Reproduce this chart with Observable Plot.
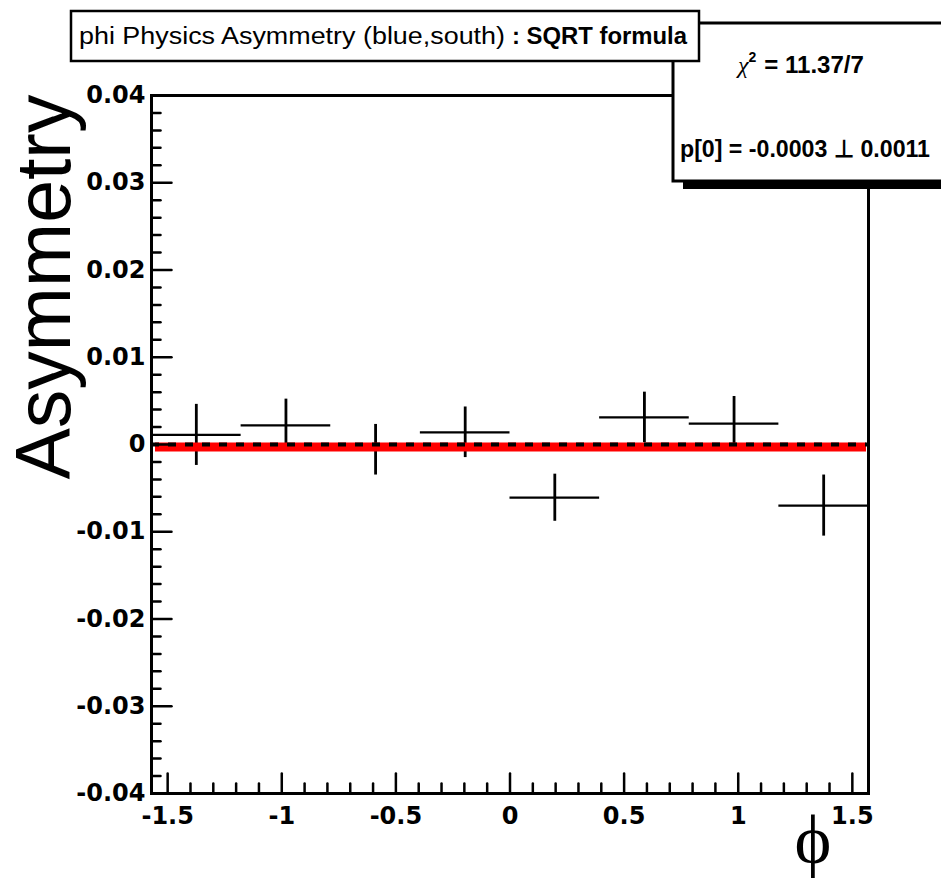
<!DOCTYPE html>
<html>
<head>
<meta charset="utf-8">
<script src="https://cdn.jsdelivr.net/npm/d3@7"></script>
<script src="https://cdn.jsdelivr.net/npm/@observablehq/plot@0.6"></script>
<style>
  html, body { margin: 0; padding: 0; background: #fff; }
  #chart { width: 941px; height: 878px; overflow: hidden; }
</style>
</head>
<body>
<div id="chart"></div>
<script>
// ---- data ----
const xDomain = [-1.5708, 1.5708];
const yDomain = [-0.04, 0.04];
const binLow    = [-1.5708, -1.1781, -0.7854, -0.3927, 0.0, 0.3927, 0.7854, 1.1781];
const binHigh   = [-1.1781, -0.7854, -0.3927, 0.0, 0.3927, 0.7854, 1.1781, 1.5708];
const binCenter = [-1.3744, -0.9817, -0.5890, -0.1963, 0.1963, 0.5890, 0.9817, 1.3744];
const asym      = [0.0011, 0.0022, -0.0006, 0.0014, -0.0061, 0.0031, 0.0024, -0.0070];
const asymErr   = [0.0035, 0.0030, 0.0029, 0.0029, 0.0027, 0.0029, 0.0031, 0.0035];
const fitP0 = -0.0003;
const yMajorTicks = [-0.04, -0.03, -0.02, -0.01, 0, 0.01, 0.02, 0.03, 0.04];
const yTickLabels = ["-0.04", "-0.03", "-0.02", "-0.01", "0", "0.01", "0.02", "0.03", "0.04"];
const yMinorTicks = d3.range(-40, 41, 2).filter(v => v % 10 !== 0).map(v => v / 1000);
const xMajorTicks = [-1.5, -1, -0.5, 0, 0.5, 1, 1.5];
const xTickLabels = ["-1.5", "-1", "-0.5", "0", "0.5", "1", "1.5"];
const xMinorTicks = d3.range(-15, 16, 1).filter(v => v % 5 !== 0).map(v => v / 10);
const titleText = "phi Physics Asymmetry (blue,south)";
const titleBold = ": SQRT formula";
const chi2Text = "= 11.37/7";
const p0Text = "p[0] = -0.0003 \u22A5 0.0011";
const yLabel = "Asymmetry";
const xLabel = "\u03D5";

const points = binCenter.map((c, i) => ({
  c, lo: binLow[i], hi: binHigh[i], v: asym[i], e: asymErr[i]
}));
const yMajor = yMajorTicks.map((t, i) => ({t, label: yTickLabels[i]}));
const xMajor = xMajorTicks.map((t, i) => ({t, label: xTickLabels[i]}));

const tickFont = "DejaVu Sans, Liberation Sans, sans-serif";
// plain line shape for tick vectors (no arrowhead)
const lineShape = {draw(context, l) { context.moveTo(0, 0); context.lineTo(0, -l); }};

const plot = Plot.plot({
  width: 941,
  height: 878,
  marginLeft: 151,
  marginRight: 73,
  marginTop: 95,
  marginBottom: 85,
  style: {background: "#fff", overflow: "visible"},
  x: {domain: xDomain, axis: null},
  y: {domain: yDomain, axis: null},
  marks: [
    // error bars
    Plot.ruleY(points, {y: "v", x1: "lo", x2: "hi", stroke: "#000", strokeWidth: 2.2}),
    Plot.ruleX(points, {x: "c", y1: d => d.v - d.e, y2: d => d.v + d.e, stroke: "#000", strokeWidth: 2.8}),
    // fit line
    Plot.ruleY([fitP0], {stroke: "#ff0000", strokeWidth: 9, insetLeft: 4, insetRight: 2}),
    // zero dashed line
    Plot.ruleY([0], {stroke: "#000", strokeWidth: 4, strokeDasharray: "8,9"}),
    // y ticks (inward)
    Plot.vector(yMajor, {x: () => xDomain[0], y: "t", rotate: 90, length: 20, anchor: "start", shape: lineShape, stroke: "#000", strokeWidth: 2.5}),
    Plot.vector(yMinorTicks, {x: () => xDomain[0], y: d => d, rotate: 90, length: 9, anchor: "start", shape: lineShape, stroke: "#000", strokeWidth: 2.5}),
    // x ticks (inward)
    Plot.vector(xMajor, {x: "t", y: () => yDomain[0], rotate: 0, length: 20, anchor: "start", shape: lineShape, stroke: "#000", strokeWidth: 2.5}),
    Plot.vector(xMinorTicks, {x: d => d, y: () => yDomain[0], rotate: 0, length: 10, anchor: "start", shape: lineShape, stroke: "#000", strokeWidth: 2.5}),
    // tick labels
    Plot.text(yMajor, {x: () => xDomain[0], y: "t", text: "label", textAnchor: "end", dx: -6, fontSize: 24, fontWeight: "bold", fontFamily: tickFont, fill: "#000"}),
    Plot.text(xMajor, {x: "t", y: () => yDomain[0], text: "label", textAnchor: "middle", dy: 23, fontSize: 24, fontWeight: "bold", fontFamily: tickFont, fill: "#000"}),
    Plot.frame({stroke: "#000", strokeWidth: 3})
  ]
});
document.getElementById("chart").appendChild(plot);

// ---- annotations (ROOT title box, stats box, axis titles) ----
const svg = d3.select(plot);

// y axis title
svg.append("text")
  .attr("transform", "translate(70,287) rotate(-90)")
  .attr("text-anchor", "middle")
  .attr("font-family", "Liberation Sans, Arial, sans-serif")
  .attr("font-size", 77)
  .attr("fill", "#000")
  .text(yLabel);

// x axis title
svg.append("text")
  .attr("x", 813).attr("y", 863)
  .attr("text-anchor", "middle")
  .attr("font-family", "Liberation Serif, DejaVu Serif, serif")
  .attr("font-size", 70)
  .attr("fill", "#000")
  .text(xLabel);

// stats box with shadow
svg.append("rect")
  .attr("x", 683).attr("y", 181).attr("width", 270).attr("height", 8)
  .attr("fill", "#000");
svg.append("rect")
  .attr("x", 673).attr("y", 23).attr("width", 290).attr("height", 158)
  .attr("fill", "#fff").attr("stroke", "#000").attr("stroke-width", 3);
const ct = svg.append("text")
  .attr("x", 738).attr("y", 73)
  .attr("text-anchor", "start")
  .attr("font-family", "Liberation Sans, Arial, sans-serif")
  .attr("font-size", 24)
  .attr("fill", "#000");
ct.append("tspan").attr("font-family", "Liberation Serif, serif").attr("font-style", "italic").text("\u03C7");
ct.append("tspan").attr("font-size", 14).attr("dy", -11).attr("font-weight", "bold").text("2");
ct.append("tspan").attr("dy", 11).attr("dx", 8).attr("font-weight", "bold").text(chi2Text);
svg.append("text")
  .attr("x", 680).attr("y", 157)
  .attr("text-anchor", "start")
  .attr("font-family", "Liberation Sans, Arial, sans-serif")
  .attr("font-size", 24)
  .attr("font-weight", "bold")
  .attr("fill", "#000")
  .attr("textLength", 250)
  .attr("lengthAdjust", "spacingAndGlyphs")
  .text(p0Text);

// title box (drawn on top of the stats box, as in the reference)
svg.append("rect")
  .attr("x", 71).attr("y", 11).attr("width", 628).attr("height", 50)
  .attr("fill", "#fff").attr("stroke", "#000").attr("stroke-width", 2.5);
svg.append("text")
  .attr("x", 79).attr("y", 44)
  .attr("text-anchor", "start")
  .attr("font-family", "Liberation Sans, Arial, sans-serif")
  .attr("font-size", 23)
  .attr("fill", "#000")
  .attr("textLength", 426)
  .attr("lengthAdjust", "spacingAndGlyphs")
  .text(titleText);
svg.append("text")
  .attr("x", 512).attr("y", 44)
  .attr("text-anchor", "start")
  .attr("font-family", "Liberation Sans, Arial, sans-serif")
  .attr("font-size", 23)
  .attr("font-weight", "bold")
  .attr("fill", "#000")
  .attr("textLength", 175)
  .attr("lengthAdjust", "spacingAndGlyphs")
  .text(titleBold);
</script>
</body>
</html>
